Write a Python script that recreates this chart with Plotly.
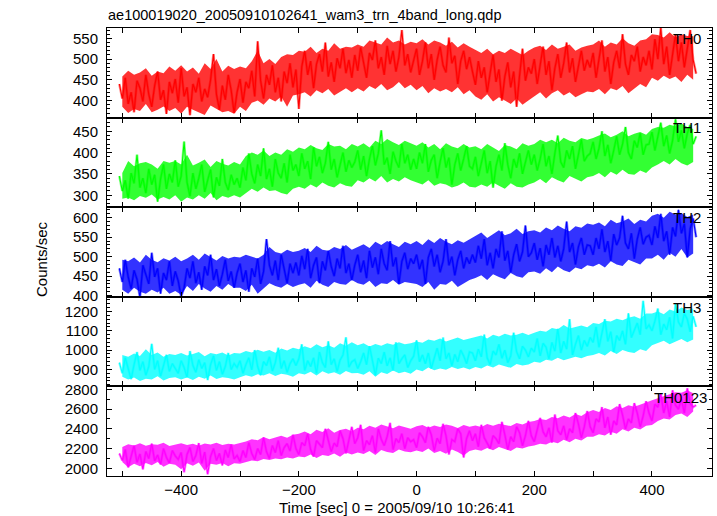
import plotly.graph_objects as go
from plotly.subplots import make_subplots

# ---- data: count rates (5-s samples) ----
time_s = list(range(-505, 476, 5))

th0 = [440, 405, 455, 392, 420, 372, 448, 430, 398, 462, 415, 385, 436, 470, 402, 425, 368, 445, 418, 452,
       395, 478, 410, 432, 365, 440, 420, 455, 398, 428, 408, 450, 512, 415, 378, 436, 402, 462, 425, 370,
       420, 452, 395, 445, 430, 472, 410, 543, 448, 405, 462, 438, 485, 420, 455, 398, 470, 442, 490, 432,
       475, 380, 482, 520, 462, 495, 430, 488, 512, 470, 540, 458, 492, 445, 502, 478, 525, 466, 498, 455,
       510, 472, 528, 490, 455, 515, 498, 545, 478, 505, 462, 532, 488, 520, 470, 505, 570, 485, 512, 468,
       500, 525, 462, 495, 540, 478, 512, 450, 498, 530, 485, 468, 552, 490, 508, 440, 495, 520, 476, 505,
       470, 438, 495, 455, 480, 420, 466, 510, 445, 475, 400, 458, 492, 432, 470, 385, 460, 525, 448, 480,
       465, 500, 440, 485, 530, 462, 495, 425, 478, 512, 455, 490, 540, 468, 502, 445, 485, 520, 472, 498,
       480, 515, 455, 498, 545, 470, 505, 440, 492, 520, 478, 560, 488, 462, 510, 495, 530, 470, 505, 485,
       520, 475, 548, 500, 575, 488, 530, 462, 515, 560, 495, 540, 480, 525, 570, 498, 465]

th1 = [345, 310, 335, 292, 352, 328, 395, 318, 340, 305, 362, 325, 348, 285, 338, 372, 315, 350, 330, 382,
       320, 345, 426, 330, 298, 352, 315, 340, 372, 308, 335, 360, 295, 342, 322, 385, 330, 312, 348, 325,
       340, 318, 365, 335, 398, 350, 328, 372, 345, 410, 338, 362, 320, 385, 352, 340, 375, 330, 395, 358,
       372, 345, 398, 362, 380, 338, 412, 368, 390, 352, 375, 425, 360, 385, 342, 372, 400, 355, 382, 365,
       378, 405, 360, 392, 345, 385, 415, 370, 398, 452, 372, 388, 350, 402, 380, 365, 420, 375, 395, 360,
       385, 362, 400, 375, 420, 355, 382, 395, 340, 378, 410, 365, 388, 325, 372, 398, 358, 385, 415, 368,
       362, 390, 345, 375, 405, 352, 380, 318, 368, 395, 358, 422, 372, 340, 385, 365, 398, 350, 378, 405,
       372, 395, 358, 385, 420, 368, 392, 350, 398, 440, 378, 365, 405, 385, 415, 362, 395, 430, 380, 392,
       398, 425, 385, 410, 450, 392, 418, 375, 405, 438, 395, 420, 460, 400, 385, 428, 412, 445, 395, 418,
       420, 448, 405, 435, 470, 415, 440, 398, 428, 478, 425, 452, 410, 445, 465, 420, 438]

th2 = [470, 435, 492, 448, 418, 465, 442, 395, 478, 455, 430, 510, 448, 470, 405, 458, 440, 488, 425, 462,
       438, 398, 420, 470, 445, 488, 432, 460, 415, 475, 452, 505, 440, 468, 425, 455, 492, 438, 462, 420,
       458, 482, 435, 465, 410, 470, 448, 495, 430, 462, 545, 478, 452, 490, 440, 505, 465, 432, 482, 458,
       485, 452, 502, 468, 520, 445, 478, 498, 432, 488, 465, 515, 475, 450, 495, 470, 528, 458, 482, 440,
       478, 505, 460, 490, 445, 515, 472, 498, 455, 520, 482, 465, 540, 475, 498, 430, 488, 510, 468, 495,
       482, 505, 468, 492, 430, 498, 520, 475, 505, 460, 488, 545, 478, 500, 452, 492, 515, 470, 498, 482,
       505, 485, 528, 495, 545, 478, 510, 470, 520, 498, 565, 490, 515, 460, 505, 532, 488, 512, 580, 500,
       510, 535, 492, 522, 475, 530, 505, 548, 498, 528, 488, 520, 590, 512, 535, 480, 525, 548, 505, 530,
       528, 505, 548, 520, 570, 512, 540, 490, 558, 530, 548, 605, 535, 520, 560, 495, 545, 575, 532, 550,
       555, 530, 578, 548, 610, 540, 565, 505, 575, 552, 620, 560, 585, 498, 572, 598, 550]

th3 = [935, 880, 960, 905, 850, 925, 990, 895, 940, 870, 915, 1032, 900, 945, 865, 920, 975, 890, 930, 905,
       880, 945, 910, 860, 995, 920, 885, 950, 905, 935, 845, 925, 970, 895, 940, 875, 915, 985, 900, 930,
       910, 945, 880, 925, 960, 898, 1000, 915, 870, 940, 920, 965, 892, 935, 1012, 905, 945, 885, 930, 955,
       920, 955, 1030, 895, 945, 915, 960, 880, 990, 935, 910, 1045, 925, 955, 890, 948, 975, 1066, 912, 940,
       950, 905, 940, 985, 925, 1020, 948, 870, 958, 930, 990, 918, 960, 895, 1040, 930, 955, 975, 910, 945,
       968, 1050, 940, 975, 930, 985, 905, 960, 1010, 945, 1065, 955, 985, 920, 978, 940, 1000, 970, 930, 990,
       985, 945, 1005, 965, 1080, 960, 925, 995, 975, 1030, 958, 1000, 935, 970, 1090, 992, 955, 1020, 1000, 965,
       1010, 990, 1060, 970, 1035, 1015, 955, 1040, 995, 1110, 985, 1045, 1005, 1160, 975, 1030, 1075, 1000, 1050, 1020,
       1065, 1040, 1120, 1015, 1085, 1160, 1045, 1095, 990, 1075, 1050, 1100, 1030, 1190, 1065, 1105, 1140, 1080, 1255, 1110,
       1130, 1100, 1150, 1215, 1080, 1135, 1105, 1170, 1060, 1240, 1145, 1120, 1190, 1160, 1095, 1175, 1120]

th0123 = [2150, 2080, 2190, 2010, 2120, 2230, 2060, 2145, 1990, 2170, 2100, 2250, 2075, 2135, 2040, 2200, 2110, 2055, 2180, 2125,
          2090, 2160, 1960, 2140, 2210, 2070, 2130, 2255, 2050, 2165, 1940, 2120, 2200, 2080, 2150, 2030, 2185, 2110, 2240, 2095,
          2130, 2070, 2180, 2110, 2260, 2150, 2090, 2200, 2140, 2310, 2170, 2100, 2230, 2160, 2280, 2130, 2210, 2250, 2175, 2340,
          2200, 2140, 2260, 2230, 2350, 2190, 2120, 2280, 2245, 2210, 2400, 2290, 2170, 2255, 2220, 2380, 2300, 2150, 2270, 2420,
          2250, 2310, 2440, 2180, 2280, 2240, 2330, 2160, 2400, 2295, 2230, 2320, 2460, 2190, 2300, 2260, 2350, 2200, 2310, 2270,
          2290, 2210, 2360, 2320, 2260, 2420, 2340, 2180, 2305, 2250, 2450, 2330, 2140, 2290, 2270, 2400, 2350, 2110, 2300, 2380,
          2280, 2350, 2220, 2440, 2310, 2260, 2200, 2330, 2300, 2250, 2470, 2340, 2190, 2320, 2270, 2420, 2360, 2230, 2330, 2480,
          2330, 2270, 2400, 2510, 2370, 2320, 2410, 2260, 2545, 2380, 2340, 2430, 2290, 2400, 2360, 2560, 2450, 2310, 2420, 2580,
          2420, 2360, 2500, 2470, 2620, 2410, 2520, 2340, 2480, 2440, 2650, 2540, 2400, 2500, 2460, 2660, 2560, 2420, 2530, 2680,
          2560, 2480, 2650, 2620, 2760, 2560, 2680, 2520, 2790, 2640, 2600, 2700, 2560, 2810, 2660, 2620, 2640]

# ---- scatter envelope of the 1-s samples (10-s bins) ----
env_time = list(range(-500, 480, 10))
th0_lo = [385, 370, 380, 375, 392, 372, 378, 386, 375, 382, 368, 385, 378, 372, 365, 388, 380, 372, 375, 368,
          385, 375, 395, 400, 390, 405, 398, 410, 385, 412, 415, 420, 410, 425, 418, 428, 412, 422, 430, 420,
          430, 422, 435, 428, 440, 425, 432, 445, 430, 438, 425, 435, 418, 430, 422, 428, 420, 432, 415, 425,
          410, 402, 415, 398, 408, 400, 392, 405, 390, 400, 410, 420, 405, 418, 425, 412, 420, 408, 415, 422,
          420, 428, 415, 430, 425, 435, 418, 428, 440, 432, 455, 448, 460, 452, 458, 445, 462, 450]
th0_hi = [458, 472, 462, 468, 478, 460, 470, 466, 482, 472, 485, 470, 480, 465, 490, 476, 500, 470, 484, 476,
          482, 478, 495, 520, 490, 500, 488, 505, 512, 510, 520, 518, 530, 515, 525, 520, 538, 525, 530, 528,
          535, 530, 545, 540, 535, 552, 540, 545, 535, 542, 538, 548, 535, 545, 540, 532, 542, 528, 538, 530,
          522, 515, 525, 512, 520, 515, 525, 518, 510, 520, 528, 532, 522, 535, 525, 530, 535, 520, 528, 532,
          535, 545, 530, 540, 535, 550, 538, 532, 545, 548, 560, 558, 552, 565, 552, 560, 556, 555]
th1_lo = [292, 295, 288, 298, 294, 302, 290, 296, 290, 300, 285, 295, 290, 300, 292, 305, 288, 298, 294, 300,
          295, 305, 315, 308, 318, 310, 312, 305, 302, 315, 320, 315, 325, 318, 330, 322, 318, 328, 322, 320,
          335, 330, 340, 332, 345, 330, 338, 332, 342, 335, 330, 325, 335, 322, 328, 325, 318, 322, 330, 320,
          318, 325, 320, 330, 322, 315, 328, 320, 318, 325, 330, 338, 328, 342, 335, 330, 345, 338, 332, 342,
          345, 352, 342, 355, 348, 360, 350, 348, 358, 352, 365, 372, 380, 372, 385, 375, 370, 378]
th1_hi = [352, 380, 368, 375, 378, 372, 362, 380, 376, 380, 372, 395, 370, 376, 384, 366, 380, 374, 370, 378,
          372, 392, 400, 395, 405, 392, 400, 395, 408, 402, 412, 408, 418, 410, 406, 420, 414, 416, 408, 420,
          414, 422, 412, 428, 420, 432, 424, 418, 428, 422, 416, 424, 412, 420, 408, 422, 414, 410, 420, 412,
          415, 408, 420, 412, 404, 418, 414, 408, 422, 416, 420, 430, 424, 430, 422, 435, 428, 424, 434, 430,
          434, 440, 445, 436, 442, 450, 438, 444, 448, 442, 455, 460, 458, 465, 462, 468, 460, 455]
th2_lo = [415, 405, 420, 410, 405, 415, 408, 420, 405, 412, 402, 425, 412, 430, 418, 410, 425, 415, 430, 420,
          420, 412, 428, 405, 418, 432, 425, 420, 430, 422, 428, 432, 420, 438, 428, 422, 435, 430, 428, 440,
          432, 428, 438, 422, 432, 430, 440, 428, 435, 432, 430, 422, 435, 415, 430, 428, 438, 422, 432, 440,
          445, 452, 440, 455, 448, 442, 458, 450, 446, 460, 462, 456, 470, 460, 475, 465, 460, 472, 468, 478,
          475, 482, 472, 488, 480, 476, 492, 485, 480, 495, 495, 505, 492, 510, 500, 520, 498, 508]
th2_hi = [492, 488, 498, 485, 505, 492, 486, 496, 490, 500, 488, 495, 505, 492, 508, 498, 490, 502, 495, 500,
          498, 505, 500, 495, 505, 525, 512, 508, 518, 512, 515, 522, 512, 528, 518, 515, 525, 520, 530, 518,
          525, 532, 522, 538, 530, 540, 532, 525, 538, 532, 540, 530, 545, 535, 548, 538, 532, 542, 536, 545,
          552, 562, 548, 558, 568, 555, 560, 572, 558, 565, 568, 562, 575, 568, 580, 572, 565, 578, 574, 585,
          582, 588, 578, 595, 586, 590, 598, 584, 595, 590, 605, 610, 600, 615, 608, 612, 602, 608]
th3_lo = [862, 848, 858, 840, 852, 848, 865, 842, 855, 860, 848, 858, 845, 862, 852, 868, 850, 860, 856, 848,
          860, 870, 862, 875, 868, 880, 866, 878, 872, 862, 880, 874, 888, 868, 890, 878, 885, 872, 892, 880,
          882, 872, 890, 862, 885, 876, 894, 880, 888, 878, 900, 890, 910, 895, 905, 898, 912, 902, 910, 900,
          912, 905, 920, 910, 925, 915, 908, 928, 920, 926, 940, 935, 950, 945, 960, 948, 955, 965, 958, 970,
          975, 985, 972, 995, 980, 1000, 990, 985, 1005, 995, 1025, 1035, 1048, 1030, 1045, 1058, 1040, 1055]
th3_hi = [975, 965, 982, 970, 1005, 975, 988, 965, 980, 975, 985, 972, 980, 990, 968, 985, 978, 988, 972, 985,
          982, 995, 988, 1002, 992, 1000, 986, 1008, 998, 1012, 1005, 1020, 1010, 1030, 1015, 1025, 1012, 1035, 1022, 1040,
          1025, 1035, 1018, 1032, 1022, 1036, 1028, 1040, 1030, 1035, 1045, 1038, 1055, 1048, 1060, 1045, 1055, 1065, 1052, 1060,
          1065, 1075, 1060, 1080, 1070, 1085, 1075, 1080, 1090, 1078, 1090, 1100, 1095, 1115, 1108, 1130, 1112, 1120, 1128, 1118,
          1140, 1135, 1152, 1148, 1162, 1155, 1168, 1175, 1162, 1190, 1190, 1200, 1185, 1210, 1200, 1220, 1208, 1215]
th0123_lo = [2065, 2010, 2045, 2020, 2055, 2030, 2065, 2015, 2045, 2035, 1990, 2050, 2025, 2060, 1975, 2045, 2035, 2055, 2020, 2050,
             2045, 2065, 2080, 2072, 2095, 2085, 2100, 2092, 2110, 2100, 2120, 2112, 2140, 2105, 2135, 2125, 2150, 2118, 2160, 2140,
             2160, 2145, 2175, 2135, 2185, 2165, 2155, 2190, 2170, 2162, 2180, 2165, 2200, 2155, 2175, 2148, 2190, 2165, 2130, 2175,
             2190, 2178, 2205, 2182, 2215, 2195, 2175, 2210, 2200, 2220, 2230, 2250, 2242, 2270, 2255, 2290, 2265, 2300, 2282, 2320,
             2320, 2345, 2332, 2370, 2350, 2395, 2372, 2410, 2392, 2430, 2440, 2480, 2505, 2495, 2540, 2555, 2520, 2575]
th0123_hi = [2215, 2245, 2230, 2255, 2228, 2245, 2238, 2258, 2225, 2242, 2255, 2235, 2248, 2228, 2252, 2240, 2260, 2235, 2250, 2240,
             2255, 2272, 2295, 2285, 2318, 2295, 2312, 2330, 2310, 2340, 2350, 2372, 2345, 2390, 2368, 2405, 2360, 2388, 2400, 2375,
             2410, 2395, 2430, 2410, 2445, 2425, 2405, 2435, 2420, 2402, 2425, 2440, 2412, 2435, 2418, 2445, 2430, 2408, 2438, 2422,
             2435, 2418, 2448, 2430, 2452, 2440, 2428, 2460, 2445, 2470, 2480, 2500, 2490, 2520, 2508, 2535, 2515, 2550, 2530, 2568,
             2590, 2570, 2610, 2590, 2630, 2610, 2640, 2625, 2650, 2668, 2690, 2710, 2728, 2745, 2770, 2765, 2790, 2760]

band_names = ["TH0", "TH1", "TH2", "TH3", "TH0123"]
band_rates = [th0, th1, th2, th3, th0123]
band_lo = [th0_lo, th1_lo, th2_lo, th3_lo, th0123_lo]
band_hi = [th0_hi, th1_hi, th2_hi, th3_hi, th0123_hi]

y_ranges = [[359, 575], [272, 482], [397, 627], [812, 1276], [1922, 2830]]
y_ticks = [[400, 450, 500, 550], [300, 350, 400, 450], [400, 450, 500, 550, 600],
           [900, 1000, 1100, 1200], [2000, 2200, 2400, 2600, 2800]]
y_minor = [10, 10, 10, 20, 100]

x_tickvals = [-500, -400, -300, -200, -100, 0, 100, 200, 300, 400]
x_ticktext = ["", "\u2212400", "", "\u2212200", "", "0", "", "200", "", "400"]

colors = ["#ff0000", "#00ff00", "#0000ff", "#00ffff", "#ff00ff"]
band_fill = ["rgba(255,0,0,0.8)", "rgba(0,255,0,0.8)", "rgba(0,0,255,0.8)",
             "rgba(0,255,255,0.8)", "rgba(255,0,255,0.8)"]
halo = ["rgba(255,0,0,0.45)", "rgba(0,255,0,0.45)", "rgba(0,0,255,0.45)",
        "rgba(0,255,255,0.45)", "rgba(255,0,255,0.45)"]

for name, vals, lo, hi in zip(band_names, band_rates, band_lo, band_hi):
    assert len(vals) == len(time_s), (name, len(vals))
    assert len(lo) == len(env_time) and len(hi) == len(env_time), (name, len(lo), len(hi))

FONT = "Liberation Sans, Arial, sans-serif"

fig = make_subplots(rows=5, cols=1, shared_xaxes=True, vertical_spacing=0)

for r in range(5):
    fig.add_trace(go.Scatter(x=env_time, y=band_lo[r], mode="lines", line=dict(width=0),
                             hoverinfo="skip", showlegend=False), row=r + 1, col=1)
    fig.add_trace(go.Scatter(x=env_time, y=band_hi[r], mode="lines", line=dict(width=0),
                             fill="tonexty", fillcolor=band_fill[r],
                             hoverinfo="skip", showlegend=False), row=r + 1, col=1)
    fig.add_trace(go.Scatter(x=time_s, y=band_rates[r], mode="lines",
                             line=dict(color=halo[r], width=2.6),
                             hoverinfo="skip", showlegend=False), row=r + 1, col=1)
    fig.add_trace(go.Scatter(x=time_s, y=band_rates[r], mode="lines",
                             line=dict(color=colors[r], width=1.1),
                             name=band_names[r], showlegend=False), row=r + 1, col=1)

for r in range(5):
    fig.update_yaxes(row=r + 1, col=1, range=y_ranges[r], tickvals=y_ticks[r],
                     ticks="inside", ticklen=5, tickwidth=1, tickcolor="black",
                     ticklabelstandoff=5,
                     showline=True, linecolor="black", linewidth=1, mirror="allticks",
                     showgrid=False, zeroline=False,
                     minor=dict(dtick=y_minor[r], ticks="inside", ticklen=3,
                                tickcolor="black", showgrid=False),
                     tickfont=dict(family=FONT, size=15, color="black"))
    fig.update_xaxes(row=r + 1, col=1, range=[-526, 502], tickvals=x_tickvals,
                     ticktext=x_ticktext, showticklabels=(r == 4),
                     ticks="inside", ticklen=5, tickwidth=1, tickcolor="black",
                     showline=True, linecolor="black", linewidth=1, mirror="allticks",
                     showgrid=False, zeroline=False,
                     tickfont=dict(family=FONT, size=15, color="black"))

W, H = 717, 516
L, R, T, B = 107, 5, 28, 40
pw, ph = W - L - R, H - T - B

def px(x):
    return (x - L) / pw

def py(y):
    return (H - B - y) / ph

ann = [
    dict(text="ae100019020_20050910102641_wam3_trn_4band_long.qdp", x=px(106), y=py(15),
         xanchor="left", yanchor="middle", font=dict(size=14.5)),
    dict(text="Time [sec] 0 = 2005/09/10 10:26:41", x=px(397), y=py(507),
         xanchor="center", yanchor="middle", font=dict(size=15)),
    dict(text="Counts/sec", x=px(41), y=py(259), textangle=-90,
         xanchor="center", yanchor="middle", font=dict(size=15)),
]
label_pos = [(703, 38), (703, 127.5), (703, 217.5), (703, 307.5), (709, 397)]
for name, (lx, ly) in zip(band_names, label_pos):
    ann.append(dict(text=name, x=px(lx), y=py(ly), xanchor="right", yanchor="middle",
                    font=dict(size=15)))
for a in ann:
    a.update(xref="paper", yref="paper", showarrow=False)
    a["font"] = dict(family=FONT, color="black", size=a["font"]["size"])

fig.update_layout(width=W, height=H, margin=dict(l=L, r=R, t=T, b=B),
                  paper_bgcolor="white", plot_bgcolor="white",
                  annotations=ann, showlegend=False)

fig.write_html("out.html", config={"displayModeBar": False},
               post_script="document.body.style.margin='0';")
